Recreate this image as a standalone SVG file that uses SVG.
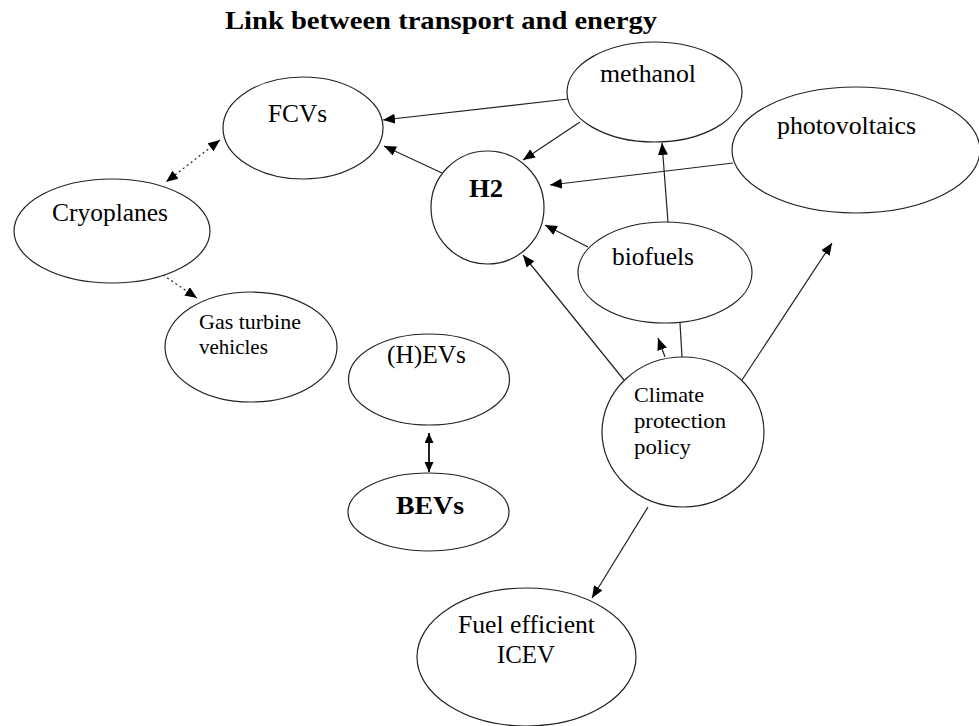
<svg xmlns="http://www.w3.org/2000/svg" width="979" height="726" viewBox="0 0 979 726">
<style>
  .node ellipse { fill: #ffffff; stroke: #222222; stroke-width: 1.2; }
  .lbl { font-family: "Liberation Serif", "Times New Roman", serif; fill: #000000; font-size: 25px; }
  .bold { font-weight: bold; }
  .small { font-size: 21px; }
  .edge { stroke: #222222; stroke-width: 1.2; fill: none; }
  .dot { stroke-dasharray: 2 3; }
  .thick { stroke-width: 2; }
</style>
<defs>
  <marker id="ah" markerUnits="userSpaceOnUse" markerWidth="13" markerHeight="11" refX="12" refY="5" orient="auto-start-reverse">
    <path d="M0,0 L12,5 L0,10 z" fill="#000000"/>
  </marker>
  <marker id="ahs" markerUnits="userSpaceOnUse" markerWidth="11" markerHeight="10" refX="10" refY="4.5" orient="auto-start-reverse">
    <path d="M0,0 L10,4.5 L0,9 z" fill="#000000"/>
  </marker>
</defs>
<rect width="979" height="726" fill="#ffffff"/>
<text class="lbl bold" x="225" y="29" font-size="26" textLength="432" lengthAdjust="spacingAndGlyphs">Link between transport and energy</text>

<g id="connectors">
  <line class="edge" x1="568" y1="99" x2="383" y2="120" marker-end="url(#ah)"/>
  <line class="edge" x1="442" y1="173" x2="384" y2="146" marker-end="url(#ah)"/>
  <line class="edge" x1="580" y1="122" x2="523" y2="160" marker-end="url(#ah)"/>
  <line class="edge" x1="733" y1="163" x2="550" y2="185" marker-end="url(#ah)"/>
  <line class="edge" x1="668" y1="222" x2="662" y2="143" marker-end="url(#ah)"/>
  <line class="edge" x1="588" y1="247" x2="545" y2="225" marker-end="url(#ah)"/>
  <line class="edge" x1="624" y1="380" x2="523" y2="255" marker-end="url(#ah)"/>
  <line class="edge" x1="742" y1="380" x2="832" y2="243" marker-end="url(#ah)"/>
  <line class="edge" x1="665" y1="357" x2="658" y2="338" marker-end="url(#ah)"/>
  <line class="edge" x1="682" y1="357" x2="680" y2="323"/>
  <line class="edge" x1="648" y1="507" x2="592" y2="598" marker-end="url(#ah)"/>
  <line class="edge dot" x1="220" y1="140" x2="166" y2="182" marker-start="url(#ah)" marker-end="url(#ah)"/>
  <line class="edge dot" x1="163" y1="275" x2="197" y2="298" marker-end="url(#ah)"/>
  <line class="edge thick" x1="429" y1="433" x2="429" y2="472" marker-start="url(#ahs)" marker-end="url(#ahs)"/>
</g>

<g id="node-fcvs" class="node">
  <ellipse cx="303" cy="128" rx="80" ry="51"/>
  <text class="lbl" x="268" y="122" textLength="59" lengthAdjust="spacingAndGlyphs">FCVs</text>
</g>
<g id="node-cryoplanes" class="node">
  <ellipse cx="112" cy="231" rx="98" ry="52"/>
  <text class="lbl" x="52" y="221" textLength="116" lengthAdjust="spacingAndGlyphs">Cryoplanes</text>
</g>
<g id="node-gasturbine" class="node">
  <ellipse cx="251" cy="347" rx="86" ry="55"/>
  <text class="lbl small" x="199" y="329" textLength="102" lengthAdjust="spacingAndGlyphs">Gas turbine</text>
  <text class="lbl small" x="199" y="354">vehicles</text>
</g>
<g id="node-methanol" class="node">
  <ellipse cx="654.5" cy="92" rx="87.5" ry="50"/>
  <text class="lbl" x="600" y="82" textLength="96" lengthAdjust="spacingAndGlyphs">methanol</text>
</g>
<g id="node-h2" class="node">
  <ellipse cx="487.5" cy="207.5" rx="56.5" ry="56.5"/>
  <text class="lbl bold" x="469" y="197" textLength="34" lengthAdjust="spacingAndGlyphs">H2</text>
</g>
<g id="node-photovoltaics" class="node">
  <ellipse cx="856" cy="150" rx="124" ry="63"/>
  <text class="lbl" x="777" y="134" textLength="139" lengthAdjust="spacingAndGlyphs">photovoltaics</text>
</g>
<g id="node-biofuels" class="node">
  <ellipse cx="665" cy="272.5" rx="87" ry="50.5"/>
  <text class="lbl" x="612" y="265" textLength="82" lengthAdjust="spacingAndGlyphs">biofuels</text>
</g>
<g id="node-hevs" class="node">
  <ellipse cx="429" cy="379.5" rx="80.5" ry="45.5"/>
  <text class="lbl" x="387" y="363" textLength="79" lengthAdjust="spacingAndGlyphs">(H)EVs</text>
</g>
<g id="node-bevs" class="node">
  <ellipse cx="428.5" cy="512" rx="80.5" ry="39"/>
  <text class="lbl bold" x="396" y="514" font-size="27" textLength="68" lengthAdjust="spacingAndGlyphs">BEVs</text>
</g>
<g id="node-climate" class="node">
  <ellipse cx="683" cy="432" rx="81" ry="75"/>
  <text class="lbl small" x="634" y="402" textLength="70" lengthAdjust="spacingAndGlyphs">Climate</text>
  <text class="lbl small" x="634" y="428" textLength="92" lengthAdjust="spacingAndGlyphs">protection</text>
  <text class="lbl small" x="634" y="454" textLength="57" lengthAdjust="spacingAndGlyphs">policy</text>
</g>
<g id="node-icev" class="node">
  <ellipse cx="526.5" cy="657" rx="109.5" ry="69"/>
  <text class="lbl" x="458" y="633" textLength="137" lengthAdjust="spacingAndGlyphs">Fuel efficient</text>
  <text class="lbl" x="497" y="663" textLength="58" lengthAdjust="spacingAndGlyphs">ICEV</text>
</g>
</svg>
